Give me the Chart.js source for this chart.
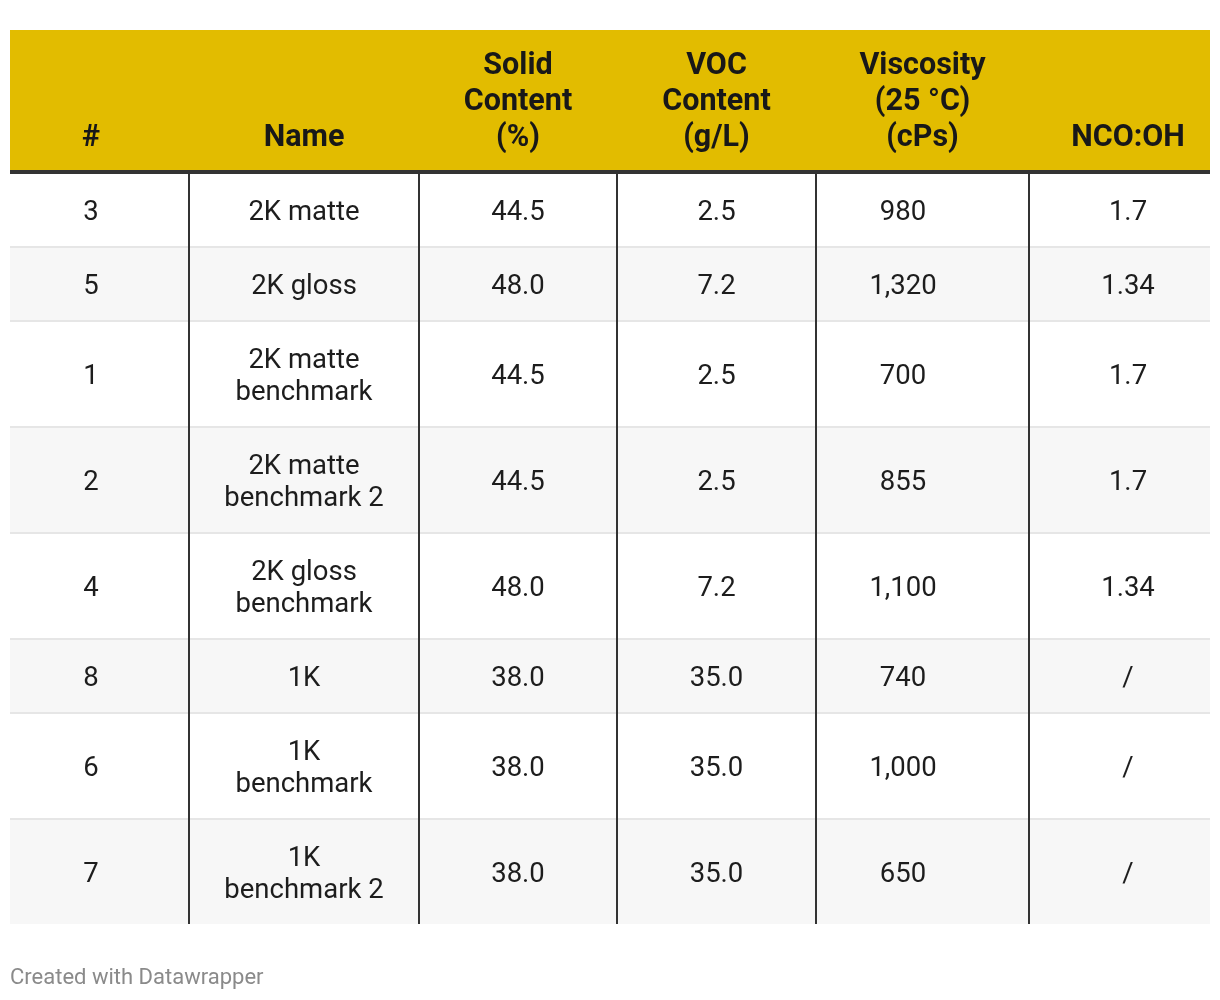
<!DOCTYPE html>
<html>
<head>
<meta charset="utf-8">
<script src="https://cdn.jsdelivr.net/npm/chart.js@4.4.1/dist/chart.umd.min.js"></script>
<style>
html,body{margin:0;padding:0;background:#ffffff;}
#wrap{width:1220px;height:1000px;position:relative;}
</style>
</head>
<body>
<div id="wrap"><canvas id="c" width="1220" height="1000"></canvas></div>
<script>
// ---------- DATA ----------
const headers = ['#', 'Name', 'Solid\nContent\n(%)', 'VOC\nContent\n(g/L)', 'Viscosity\n(25 °C)\n(cPs)', 'NCO:OH'];
const ids = ['3', '5', '1', '2', '4', '8', '6', '7'];
const names = ['2K matte', '2K gloss', '2K matte\nbenchmark', '2K matte\nbenchmark 2', '2K gloss\nbenchmark', '1K', '1K\nbenchmark', '1K\nbenchmark 2'];
const solidContent = [44.5, 48.0, 44.5, 44.5, 48.0, 38.0, 38.0, 38.0];
const vocContent = [2.5, 7.2, 2.5, 2.5, 7.2, 35.0, 35.0, 35.0];
const viscosity = [980, 1320, 700, 855, 1100, 740, 1000, 650];
const ncoOh = ['1.7', '1.34', '1.7', '1.7', '1.34', '/', '/', '/'];
const footerText = 'Created with Datawrapper';

// ---------- LAYOUT / STYLE ----------
const layout = {
  colWidths: [179, 230, 198, 199, 213, 181],
  headerTextOffset: [-8.5, 0, 0, 0, 0, 8.5],
  bodyTextOffset: [-8.5, 0, 0, 0, -19.5, 8.5],
  headerHeight: 140,
  headerRule: 4,
  headerLineHeight: 36,
  headerBaselineGap: 24,
  lineHeight: 32,
  rowPadding: 40,
  rowRule: 2
};
const style = {
  headerBg: '#e2bc00',
  headerText: '#181818',
  bodyText: '#1d1d1d',
  stripe: '#f7f7f7',
  rowRule: '#e6e6e6',
  colRule: '#333333',
  headerRuleColor: '#333333',
  headerFont: 'bold 30.5px Roboto',
  bodyFont: '27.5px Roboto',
  bodySize: 27.5
};

function fmt1(v) { return v.toFixed(1); }
function fmtThousands(v) { return v.toLocaleString('en-US'); }

const columnsText = [
  ids,
  names,
  solidContent.map(fmt1),
  vocContent.map(fmt1),
  viscosity.map(fmtThousands),
  ncoOh
];

// build cumulative edges in table units
const xEdges = [0];
layout.colWidths.forEach(w => xEdges.push(xEdges[xEdges.length - 1] + w));
const rowLines = names.map(n => n.split('\n').length);
const rows = [];
let yCursor = layout.headerHeight + layout.headerRule;
rowLines.forEach((ln, i) => {
  if (i > 0) yCursor += layout.rowRule;
  const h = layout.rowPadding + ln * layout.lineHeight;
  rows.push({ top: yCursor, bottom: yCursor + h, lines: ln });
  yCursor += h;
});
const totalW = xEdges[xEdges.length - 1];
const totalH = yCursor;

const tablePlugin = {
  id: 'tablePlugin',
  afterDraw(chart) {
    const ctx = chart.ctx;
    const xs = chart.scales.x, ys = chart.scales.y;
    const px = v => xs.getPixelForValue(v);
    const py = v => ys.getPixelForValue(v);
    const L = px(0), R = px(totalW);
    ctx.save();
    // header background
    ctx.fillStyle = style.headerBg;
    ctx.fillRect(L, py(0), R - L, py(layout.headerHeight) - py(0));
    // stripes + row rules
    rows.forEach((r, i) => {
      if (i % 2 === 1) {
        ctx.fillStyle = style.stripe;
        ctx.fillRect(L, py(r.top), R - L, py(r.bottom) - py(r.top));
      }
      if (i > 0) {
        ctx.fillStyle = style.rowRule;
        ctx.fillRect(L, py(r.top - layout.rowRule), R - L, py(r.top) - py(r.top - layout.rowRule));
      }
    });
    // header rule
    ctx.fillStyle = style.headerRuleColor;
    ctx.fillRect(L, py(layout.headerHeight), R - L, py(layout.headerHeight + layout.headerRule) - py(layout.headerHeight));
    // column rules
    ctx.fillStyle = style.colRule;
    for (let c = 1; c < xEdges.length - 1; c++) {
      const x = Math.round(px(xEdges[c]));
      ctx.fillRect(x - 1, py(layout.headerHeight + layout.headerRule), 2, py(totalH) - py(layout.headerHeight + layout.headerRule));
    }
    // header text
    ctx.font = style.headerFont;
    ctx.fillStyle = style.headerText;
    ctx.textAlign = 'center';
    ctx.textBaseline = 'alphabetic';
    headers.forEach((h, c) => {
      const lines = h.split('\n');
      const cx = px((xEdges[c] + xEdges[c + 1]) / 2 + layout.headerTextOffset[c]);
      const lastBase = layout.headerHeight - layout.headerBaselineGap;
      lines.forEach((t, k) => {
        const yb = lastBase - (lines.length - 1 - k) * layout.headerLineHeight;
        ctx.fillText(t, cx, py(yb));
      });
    });
    // body text
    ctx.font = style.bodyFont;
    ctx.fillStyle = style.bodyText;
    const capHalf = style.bodySize * 0.711 / 2;
    columnsText.forEach((col, c) => {
      const cx = px((xEdges[c] + xEdges[c + 1]) / 2 + layout.bodyTextOffset[c]);
      col.forEach((val, r) => {
        const lines = String(val).split('\n');
        const row = rows[r];
        const mid = (row.top + row.bottom) / 2;
        const blockTop = mid - lines.length * layout.lineHeight / 2;
        lines.forEach((t, k) => {
          const yc = blockTop + (k + 0.5) * layout.lineHeight;
          ctx.fillText(t, cx, py(yc) + capHalf);
        });
      });
    });
    ctx.restore();
  }
};

new Chart(document.getElementById('c'), {
  type: 'scatter',
  data: { datasets: [] },
  options: {
    responsive: false,
    animation: false,
    devicePixelRatio: 1,
    layout: { padding: { left: 10, right: 10, top: 30, bottom: 0 } },
    scales: {
      x: { type: 'linear', display: false, min: 0, max: totalW },
      y: { type: 'linear', display: false, min: 0, max: totalH, reverse: true }
    },
    plugins: {
      legend: { display: false },
      tooltip: { enabled: false },
      title: {
        display: true,
        position: 'bottom',
        align: 'start',
        text: footerText,
        color: '#8a8a8a',
        font: { family: 'Roboto', size: 22, weight: 'normal', lineHeight: 1.2 },
        padding: { top: 41.6, bottom: 8 }
      }
    }
  },
  plugins: [tablePlugin]
});
</script>
</body>
</html>
